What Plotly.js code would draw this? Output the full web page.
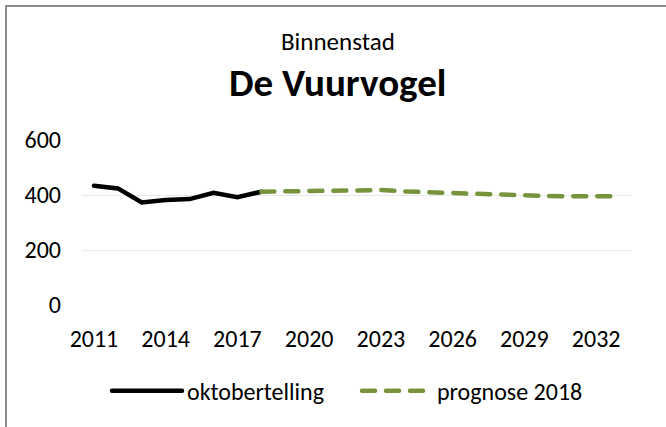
<!DOCTYPE html>
<html>
<head>
<meta charset="utf-8">
<script src="https://cdn.plot.ly/plotly-3.0.1.min.js"></script>
<style>
html,body{margin:0;padding:0;background:#fff;overflow:hidden;}
#frame{position:absolute;left:5px;top:5px;width:700px;height:500px;border-left:2px solid #8c8c8c;border-top:2px solid #8c8c8c;}
#chart{position:absolute;left:0;top:0;width:666px;height:427px;}
.scatterlayer path.js-line, .legendlines path{stroke-linecap:round !important;}
</style>
</head>
<body>
<div id="frame"></div>
<div id="chart"></div>
<script>
var yearsActual = [2011, 2012, 2013, 2014, 2015, 2016, 2017, 2018];
var valuesActual = [434, 424, 373, 382, 385, 408, 392, 412];
var yearsForecast = [2018, 2019, 2020, 2021, 2022, 2023, 2024, 2025, 2026, 2027, 2028, 2029, 2030, 2031, 2032, 2033];
var valuesForecast = [412, 414, 414, 416, 416, 418, 413, 410, 405, 401, 398, 396, 396, 395, 395, 395];
var tickYears = [2011, 2014, 2017, 2020, 2023, 2026, 2029, 2032];
var seriesNames = ['oktobertelling', 'prognose 2018'];

var FONT = 'Calibri, Carlito, "Open Sans", sans-serif';

var traces = [
  {x: yearsActual, y: valuesActual, name: seriesNames[0], mode: 'lines',
   line: {color: '#000000', width: 4.5}},
  {x: yearsForecast, y: valuesForecast, name: seriesNames[1], mode: 'lines',
   line: {color: '#77933c', width: 4.5, dash: '13px,11px'}}
];

var layout = {
  width: 666, height: 427,
  margin: {l: 82, r: 34, t: 140, b: 122},
  paper_bgcolor: 'rgba(0,0,0,0)', plot_bgcolor: 'rgba(0,0,0,0)',
  font: {family: FONT, size: 24, color: '#000'},
  showlegend: true,
  legend: {orientation: 'h', x: 0.50, xanchor: 'center', y: -0.386, yanchor: 'top',
           font: {family: FONT, size: 24, color: '#000'}, itemwidth: 70,
           entrywidthmode: 'pixels', entrywidth: 165},
  xaxis: {range: [2010.5, 2033.5], tickvals: tickYears, ticktext: tickYears.map(String),
          showgrid: false, zeroline: false, showline: false, ticks: '', ticklen: 0,
          ticklabelstandoff: 17,
          tickfont: {family: FONT, size: 24}, fixedrange: true},
  yaxis: {range: [0, 600], tickvals: [0, 200, 400, 600], showgrid: true, gridcolor: '#e8e8e8', gridwidth: 1,
          zeroline: false, showline: false, ticks: '', ticklabelstandoff: 20,
          tickfont: {family: FONT, size: 24}, fixedrange: true},
  annotations: [
    {text: 'Binnenstad', xref: 'paper', yref: 'paper', x: 0.465, y: 1.0, yshift: 99, xanchor: 'center', yanchor: 'middle',
     showarrow: false, font: {family: FONT, size: 25, color: '#000'}},
    {text: '<b>De Vuurvogel</b>', xref: 'paper', yref: 'paper', x: 0.465, y: 1.0, yshift: 58, xanchor: 'center', yanchor: 'middle',
     showarrow: false, font: {family: FONT, size: 39, color: '#000'}}
  ]
};

Plotly.newPlot('chart', traces, layout, {staticPlot: true, displayModeBar: false});
</script>
</body>
</html>
